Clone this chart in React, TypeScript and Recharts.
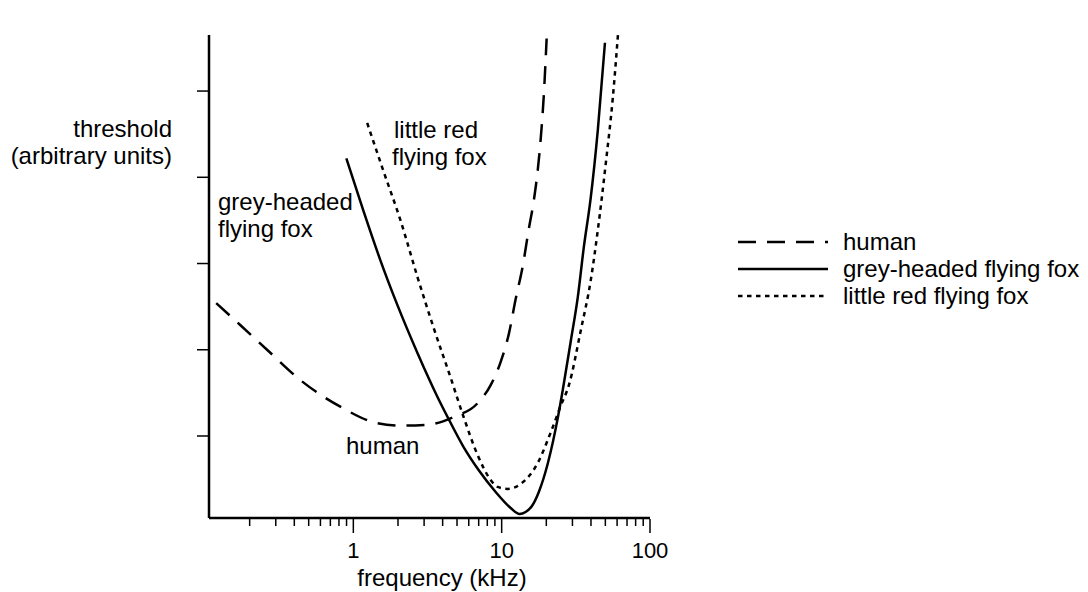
import React from 'react';
import { LineChart, Line, XAxis, YAxis } from 'recharts';

// ---- data (frequency in kHz, threshold in arbitrary units) ----
const humanFreq = [0.119, 0.172, 0.262, 0.438, 0.817, 1.37, 2.08, 3.16, 4.74, 6.88, 8.43, 9.85, 11.2, 12.4, 13.9, 15.2, 16.5, 17.5, 18.3, 19.2, 20.1];
const humanThreshold = [2.54, 2.29, 2.0, 1.65, 1.34, 1.16, 1.12, 1.13, 1.22, 1.38, 1.59, 1.86, 2.19, 2.58, 2.98, 3.39, 3.74, 4.08, 4.43, 4.93, 5.61];

const greyFreq = [0.897, 1.17, 1.52, 1.98, 2.71, 3.7, 4.32, 5.54, 6.99, 9.11, 11.5, 13.2, 14.5, 16.0, 17.8, 20.5, 23.9, 25.8, 29.3, 32.6, 35.8, 39.9, 44.5, 49.7];
const greyThreshold = [4.22, 3.61, 3.04, 2.52, 1.96, 1.45, 1.22, 0.872, 0.606, 0.351, 0.165, 0.096, 0.119, 0.188, 0.351, 0.687, 1.21, 1.53, 2.11, 2.61, 3.19, 3.77, 4.55, 5.56];

const redFreq = [1.24, 1.59, 2.08, 2.71, 3.47, 4.52, 5.54, 6.88, 8.43, 9.4, 11.0, 13.4, 17.5, 21.4, 25.0, 28.4, 34.2, 39.9, 44.5, 50.4, 56.2, 60.8];
const redThreshold = [4.63, 4.08, 3.5, 2.84, 2.26, 1.68, 1.22, 0.78, 0.49, 0.409, 0.386, 0.443, 0.687, 1.04, 1.35, 1.59, 2.23, 2.81, 3.39, 4.17, 4.93, 5.65];

const xTicks = [0.2, 0.3, 0.4, 0.5, 0.6, 0.7, 0.8, 0.9, 1, 2, 3, 4, 5, 6, 7, 8, 9, 10, 20, 30, 40, 50, 60, 70, 80, 90, 100];
const majorTicks = [1, 10, 100];
const yTicks = [1, 2, 3, 4, 5];
const xDomain = [0.1064, 100];
const yDomain = [0.049, 5.65];

const seriesNames = ['human', 'grey-headed flying fox', 'little red flying fox'];
const yLabelLines = ['threshold', '(arbitrary units)'];
const xLabel = 'frequency (kHz)';

const toPoints = (f: number[], t: number[]) => f.map((x, i) => ({ x, y: t[i] }));
const humanData = toPoints(humanFreq, humanThreshold);
const greyData = toPoints(greyFreq, greyThreshold);
const redData = toPoints(redFreq, redThreshold);

// ---- styles ----
const FONT = 'Arial, "Liberation Sans", Helvetica, sans-serif';
const FS = 24;
const TICK_FS = 22;
const W = 1080;
const H = 584;
const DASH_HUMAN = '18 11';
const DASH_RED = '4.5 4.5';
const SW = 2.5;

const XTick = (props: any) => {
  const { x, y, payload } = props;
  const v = payload.value;
  const major = majorTicks.includes(v);
  return (
    <g>
      <line x1={x} x2={x} y1={y + 1} y2={y + (major ? 15 : 8)} stroke="#000" strokeWidth={1.5} />
      {major && (
        <text x={x} y={y + 40} textAnchor="middle" fontFamily={FONT} fontSize={TICK_FS} fill="#000">
          {String(v)}
        </text>
      )}
    </g>
  );
};

const YTick = (props: any) => {
  const { x, y } = props;
  return <line x1={x - 12} x2={x - 1} y1={y} y2={y} stroke="#000" strokeWidth={1.5} />;
};

const txt = (s: string, x: number, y: number, anchor: 'start' | 'middle' | 'end' = 'start') => (
  <text key={s + x + y} x={x} y={y} textAnchor={anchor} fontFamily={FONT} fontSize={FS} fill="#000">
    {s}
  </text>
);

export default function App() {
  const legendDash = [DASH_HUMAN, undefined, DASH_RED];
  return (
    <div style={{ position: 'relative', width: W, height: H }}>
      <LineChart width={W} height={H} margin={{ top: 27, right: 438, bottom: 0, left: 0 }}>
        <XAxis
          dataKey="x"
          type="number"
          scale="log"
          domain={xDomain}
          ticks={xTicks}
          interval={0}
          tickSize={0}
          tickMargin={0}
          tick={XTick}
          allowDataOverflow
          height={74}
          axisLine={{ stroke: '#000', strokeWidth: SW }}
        />
        <YAxis
          type="number"
          domain={yDomain}
          ticks={yTicks}
          interval={0}
          tickSize={0}
          tickMargin={0}
          tick={YTick}
          width={201}
          axisLine={{ stroke: '#000', strokeWidth: SW }}
        />
        <Line data={humanData} dataKey="y" name={seriesNames[0]} type="monotone" stroke="#000" strokeWidth={SW} strokeDasharray={DASH_HUMAN} dot={false} activeDot={false} isAnimationActive={false} />
        <Line data={greyData} dataKey="y" name={seriesNames[1]} type="monotone" stroke="#000" strokeWidth={SW} dot={false} activeDot={false} isAnimationActive={false} />
        <Line data={redData} dataKey="y" name={seriesNames[2]} type="monotone" stroke="#000" strokeWidth={SW} strokeDasharray={DASH_RED} dot={false} activeDot={false} isAnimationActive={false} />
      </LineChart>
      <svg width={W} height={H} style={{ position: 'absolute', left: 0, top: 0, pointerEvents: 'none' }}>
        {txt(yLabelLines[0], 164, 129, 'end')}
        {txt(yLabelLines[1], 164, 156, 'end')}
        {txt('grey-headed', 210, 202)}
        {txt('flying fox', 210, 229)}
        {txt('little red', 386, 130)}
        {txt('flying fox', 384, 157)}
        {txt('human', 338, 446)}
        {txt(xLabel, 434, 578, 'middle')}
        {seriesNames.map((n, i) => (
          <g key={n}>
            <line x1={730} x2={820} y1={234 + i * 27} y2={234 + i * 27} stroke="#000" strokeWidth={SW} strokeDasharray={legendDash[i]} />
            {txt(n, 835, 242 + i * 27)}
          </g>
        ))}
      </svg>
    </div>
  );
}
